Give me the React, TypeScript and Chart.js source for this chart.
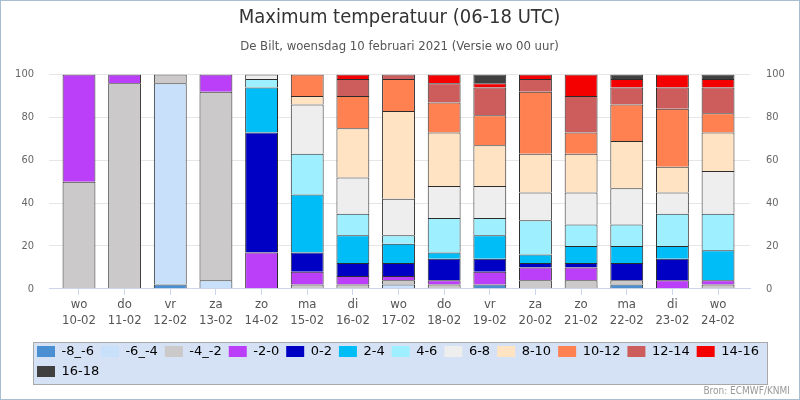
import React, { useRef, useEffect } from "react";
import Chart from "chart.js/auto";

const FONT = "'DejaVu Sans Condensed', 'Liberation Sans', sans-serif";
const LEGEND_FONT = "'DejaVu Sans', 'Liberation Sans', sans-serif";

const days = ["wo", "do", "vr", "za", "zo", "ma", "di", "wo", "do", "vr", "za", "zo", "ma", "di", "wo"];
const dates = ["10-02", "11-02", "12-02", "13-02", "14-02", "15-02", "16-02", "17-02", "18-02", "19-02", "20-02", "21-02", "22-02", "23-02", "24-02"];

const classes = ["-8_-6", "-6_-4", "-4_-2", "-2-0", "0-2", "2-4", "4-6", "6-8", "8-10", "10-12", "12-14", "14-16", "16-18"];
const colors = ["#4a8fd2", "#c8e0fa", "#cbc9c9", "#bb3ef8", "#0000c4", "#00bdf8", "#9eefff", "#eeeeee", "#ffe3c2", "#ff8050", "#cd5c5c", "#f50000", "#404040"];

// percentage of members per class, per day
const m8_6 = [0, 0, 2, 0, 0, 0, 0, 0, 0, 2, 0, 0, 2, 0, 0];
const m6_4 = [0, 0, 94, 4, 0, 0, 0, 2, 0, 0, 0, 0, 0, 0, 0];
const m4_2 = [50, 96, 4, 88, 0, 2, 2, 2, 2, 0, 4, 4, 2, 0, 2];
const m2_0 = [50, 4, 0, 8, 17, 6, 4, 2, 2, 6, 6, 6, 0, 4, 2];
const p0_2 = [0, 0, 0, 0, 56, 9, 6, 6, 10, 6, 2, 2, 8, 10, 0];
const p2_4 = [0, 0, 0, 0, 21, 27, 13, 9, 3, 11, 4, 8, 8, 6, 14];
const p4_6 = [0, 0, 0, 0, 4, 19, 10, 4, 16, 8, 16, 10, 10, 15, 17];
const p6_8 = [0, 0, 0, 0, 2, 23, 17, 17, 15, 15, 13, 15, 17, 10, 20];
const p8_10 = [0, 0, 0, 0, 0, 4, 23, 41, 25, 19, 18, 18, 22, 12, 18];
const p10_12 = [0, 0, 0, 0, 0, 10, 15, 15, 14, 14, 29, 10, 17, 27, 9];
const p12_14 = [0, 0, 0, 0, 0, 0, 8, 2, 9, 13, 6, 17, 8, 10, 12];
const p14_16 = [0, 0, 0, 0, 0, 0, 2, 0, 4, 2, 2, 10, 4, 6, 4];
const p16_18 = [0, 0, 0, 0, 0, 0, 0, 0, 0, 4, 0, 0, 2, 0, 2];

const series = [m8_6, m6_4, m4_2, m2_0, p0_2, p2_4, p4_6, p6_8, p8_10, p10_12, p12_14, p14_16, p16_18];
const yTicks = [0, 20, 40, 60, 80, 100];

const decor = {
  id: "decor",
  afterLayout(chart: any) {
    // legend starts further in than the y-axis labels
    const lg = chart.legend;
    if (lg) {
      lg.left += 16;
    }
  },
  beforeDraw(chart: any) {
    const { ctx, legend } = chart;
    ctx.save();
    ctx.fillStyle = "#fff";
    ctx.fillRect(0, 0, chart.width, chart.height);
    if (legend) {
      const x = legend.left + 3;
      const y = legend.top + 4;
      const w = chart.width - 33 - x;
      const h = legend.bottom - 4 - y;
      ctx.fillStyle = "#d5e1f5";
      ctx.fillRect(x, y, w, h);
      ctx.strokeStyle = "#a8a8a8";
      ctx.lineWidth = 1;
      ctx.strokeRect(Math.round(x) + 0.5, Math.round(y) + 0.5, Math.round(w), Math.round(h));
    }
    ctx.restore();
  },
  afterDraw(chart: any) {
    const { ctx } = chart;
    ctx.save();
    ctx.strokeStyle = "#a9bed3";
    ctx.lineWidth = 1;
    ctx.strokeRect(0.5, 0.5, chart.width - 1, chart.height - 1);
    ctx.fillStyle = "#999";
    ctx.font = "10px " + FONT;
    ctx.textAlign = "right";
    ctx.textBaseline = "middle";
    ctx.fillText("Bron: ECMWF/KNMI", chart.width - 10, chart.height - 9);
    ctx.restore();
  },
};

const App = () => {
  const chartRef = useRef<HTMLCanvasElement | null>(null);
  const chartInstanceRef = useRef<Chart | null>(null);

  useEffect(() => {
    const ctx = chartRef.current?.getContext("2d");

    if (chartInstanceRef.current) {
      chartInstanceRef.current.destroy();
    }

    if (ctx) {
      chartInstanceRef.current = new Chart(ctx, {
        type: "bar",
        data: {
          datasets: classes.map((name, k) => ({
            label: name,
            data: series[k].map((v, i) => ({ x: i, y: v || null })),
            backgroundColor: colors[k],
            borderColor: "#2b2b2b",
            borderWidth: 1,
            barPercentage: 0.72,
            categoryPercentage: 1,
          })),
        },
        options: {
          animation: false,
          responsive: false,
          layout: { padding: { left: 14, right: 15, top: 0, bottom: 12 } },
          plugins: {
            title: {
              display: true,
              text: "Maximum temperatuur (06-18 UTC)",
              color: "#333",
              font: { family: FONT, size: 20, weight: "normal" },
              padding: { top: 6, bottom: 9 },
            },
            subtitle: {
              display: true,
              text: "De Bilt, woensdag 10 februari 2021 (Versie wo 00 uur)",
              color: "#555",
              font: { family: FONT, size: 13 },
              padding: { top: 0, bottom: 20 },
            },
            legend: {
              position: "bottom",
              align: "start",
              labels: {
                boxWidth: 18,
                boxHeight: 11,
                padding: 7,
                color: "#333",
                font: { family: LEGEND_FONT, size: 13 },
                generateLabels: (chart: any) =>
                  chart.data.datasets.map((ds: any, i: number) => ({
                    text: ds.label,
                    fillStyle: ds.backgroundColor,
                    strokeStyle: ds.backgroundColor,
                    lineWidth: 0,
                    datasetIndex: i,
                  })),
              },
            },
            tooltip: { enabled: false },
          },
          scales: {
            x: {
              type: "linear",
              stacked: true,
              offset: false,
              min: -0.657,
              max: 14.7,
              afterFit: (s: any) => {
                s.height += 8;
              },
              grid: { offset: false, drawOnChartArea: false, drawTicks: true, tickLength: 6, color: "#ccd6eb" },
              border: { color: "#ccd6eb" },
              ticks: {
                stepSize: 1,
                includeBounds: false,
                autoSkip: false,
                maxRotation: 0,
                padding: 2,
                color: "#555",
                font: { family: FONT, size: 13 },
                callback: (v: any) => (Number.isInteger(v) ? [days[v], dates[v]] : ""),
              },
            },
            y: {
              stacked: true,
              min: 0,
              max: 100,
              afterFit: (s: any) => {
                s.width = 35;
              },
              afterBuildTicks: (s: any) => {
                s.ticks = yTicks.map((v) => ({ value: v }));
              },
              grid: { color: "#e6e6e6", drawTicks: false },
              border: { display: false },
              ticks: { padding: 15, color: "#666", font: { family: FONT, size: 11 } },
            },
            y2: {
              position: "right",
              min: 0,
              max: 100,
              afterFit: (s: any) => {
                s.width = 35;
              },
              afterBuildTicks: (s: any) => {
                s.ticks = yTicks.map((v) => ({ value: v }));
              },
              grid: { drawOnChartArea: false, drawTicks: false },
              border: { display: false },
              ticks: { padding: 16, color: "#666", font: { family: FONT, size: 11 } },
            },
          },
        },
        plugins: [decor],
      } as any);
    }

    return () => {
      if (chartInstanceRef.current) {
        chartInstanceRef.current.destroy();
      }
    };
  }, []);

  return (
    <div style={{ position: "absolute", left: 0, top: 0, width: 800, height: 400 }}>
      <canvas ref={chartRef} width={800} height={400} style={{ width: 800, height: 400 }}></canvas>
    </div>
  );
};

export default App;
